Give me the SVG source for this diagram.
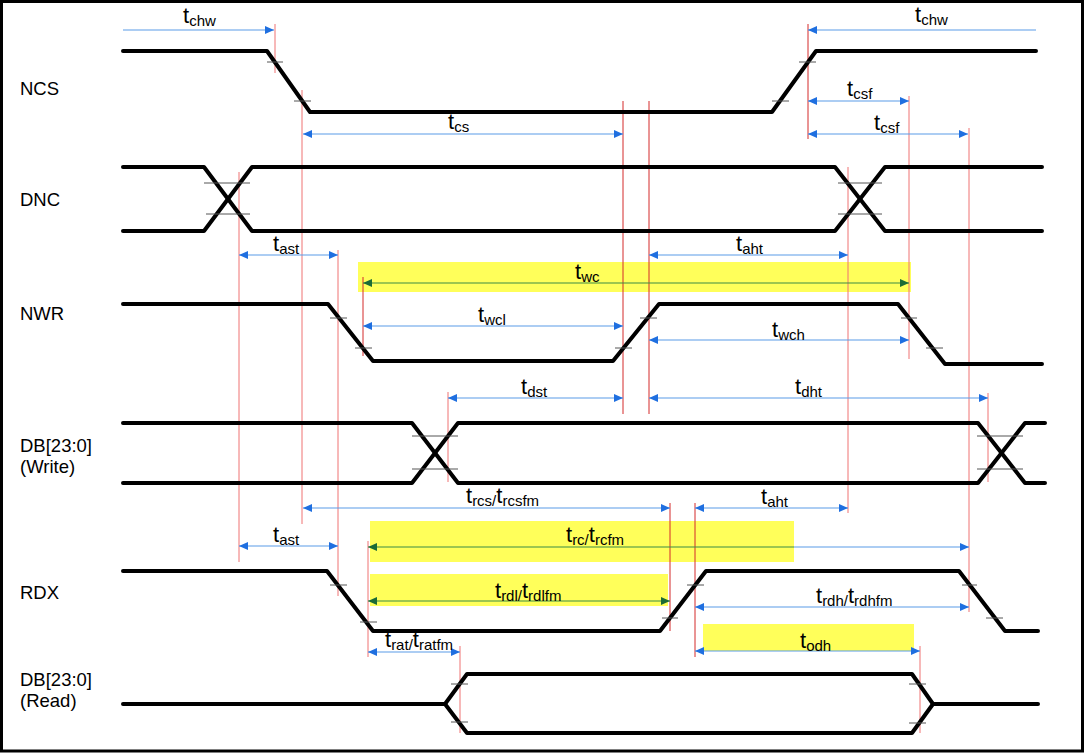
<svg xmlns="http://www.w3.org/2000/svg" width="1085" height="754" viewBox="0 0 1085 754">
<defs>
<marker id="ab" markerUnits="userSpaceOnUse" markerWidth="9" markerHeight="8" viewBox="0 0 9 8" refX="9" refY="4" orient="auto-start-reverse"><path d="M0,0 L9,4 L0,8 z" fill="#1f6fe0"/></marker>
<marker id="ag" markerUnits="userSpaceOnUse" markerWidth="9" markerHeight="8" viewBox="0 0 9 8" refX="9" refY="4" orient="auto-start-reverse"><path d="M0,0 L9,4 L0,8 z" fill="#1b6b36"/></marker>
<style>
.sig{fill:none;stroke:#000;stroke-width:4;stroke-linejoin:round;stroke-linecap:round}
.tk{stroke:#555;stroke-width:1}
.rl{stroke:#ef7272;stroke-width:1}
.rd{stroke:#d42a2a;stroke-width:1}
.dl{stroke:#5b9be8;stroke-width:1.2;fill:none}
.gl{stroke:#3d8b45;stroke-width:1.2;fill:none}
.hl{fill:#ffff5a}
.nm{font-family:"Liberation Sans",Arial,sans-serif;font-size:18.5px;fill:#000}
.lb{font-family:"Liberation Sans",Arial,sans-serif;font-size:22px;fill:#000}
.sb{font-size:15px}
</style>
</defs>
<rect x="1.5" y="1.5" width="1081" height="749.5" fill="#fff" stroke="#000" stroke-width="3"/>

<g id="highlights">
<rect class="hl" x="358" y="262" width="553" height="30"/>
<rect class="hl" x="370" y="521" width="424" height="41"/>
<rect class="hl" x="370" y="574" width="298" height="32"/>
<rect class="hl" x="703" y="624" width="211" height="27"/>
</g>

<g id="signal-labels">
<text class="nm" x="20" y="95">NCS</text>
<text class="nm" x="20" y="206">DNC</text>
<text class="nm" x="20" y="320">NWR</text>
<text class="nm" x="20" y="452">DB[23:0]</text>
<text class="nm" x="20" y="473">(Write)</text>
<text class="nm" x="20" y="599">RDX</text>
<text class="nm" x="20" y="686">DB[23:0]</text>
<text class="nm" x="20" y="707">(Read)</text>
</g>

<g id="ref-lines">
<line class="rl" x1="275" y1="24" x2="275" y2="73"/>
<line class="rl" x1="302" y1="90" x2="302" y2="524"/>
<line class="rd" x1="623" y1="101" x2="623" y2="414"/>
<line class="rd" x1="649" y1="101" x2="649" y2="414"/>
<line class="rd" x1="808" y1="24" x2="808" y2="139"/>
<line class="rl" x1="909" y1="96" x2="909" y2="359"/>
<line class="rl" x1="969" y1="128" x2="969" y2="612"/>
<line class="rl" x1="239" y1="172" x2="239" y2="562"/>
<line class="rl" x1="848" y1="167" x2="848" y2="513"/>
<line class="rl" x1="338" y1="250" x2="338" y2="596"/>
<line class="rd" x1="363" y1="277" x2="363" y2="356"/>
<line class="rl" x1="448" y1="392" x2="448" y2="482"/>
<line class="rl" x1="988" y1="393" x2="988" y2="482"/>
<line class="rl" x1="368" y1="541" x2="368" y2="657"/>
<line class="rd" x1="670" y1="503" x2="670" y2="631"/>
<line class="rd" x1="695" y1="503" x2="695" y2="657"/>
<line class="rl" x1="460" y1="646" x2="460" y2="733"/>
<line class="rl" x1="920" y1="646" x2="920" y2="733"/>
</g>

<g id="NCS">
<path class="sig" d="M123,51 L267,51 L310,112 L772,112 L816,51 L1036,51"/>
<line class="tk" x1="267" y1="62" x2="283" y2="62"/>
<line class="tk" x1="294" y1="101" x2="311" y2="101"/>
<line class="tk" x1="799" y1="62" x2="816" y2="62"/>
<line class="tk" x1="772" y1="101" x2="789" y2="101"/>
</g>

<g id="DNC">
<path class="sig" d="M123,167 L204,167 L252,231 L835,231 L885,167 L1042,167"/>
<path class="sig" d="M123,231 L204,231 L252,167 L835,167 L885,231 L1042,231"/>
<line class="tk" x1="204" y1="183" x2="250" y2="183"/>
<line class="tk" x1="206" y1="214" x2="250" y2="214"/>
<line class="tk" x1="838" y1="183" x2="882" y2="183"/>
<line class="tk" x1="838" y1="214" x2="882" y2="214"/>
</g>

<g id="NWR">
<path class="sig" d="M123,304 L328,304 L373,361 L613,361 L659,304 L898,304 L945,364 L1042,364"/>
<line class="tk" x1="330" y1="318" x2="347" y2="318"/>
<line class="tk" x1="355" y1="348" x2="372" y2="348"/>
<line class="tk" x1="615" y1="348" x2="632" y2="348"/>
<line class="tk" x1="640" y1="318" x2="657" y2="318"/>
<line class="tk" x1="901" y1="318" x2="917" y2="318"/>
<line class="tk" x1="926" y1="348" x2="943" y2="348"/>
</g>

<g id="DB-write">
<path class="sig" d="M123,423 L412,423 L458,483 L978,483 L1025,423 L1045,423"/>
<path class="sig" d="M123,483 L412,483 L458,423 L978,423 L1025,483 L1045,483"/>
<line class="tk" x1="412" y1="436" x2="458" y2="436"/>
<line class="tk" x1="412" y1="469" x2="458" y2="469"/>
<line class="tk" x1="977" y1="436" x2="1023" y2="436"/>
<line class="tk" x1="977" y1="469" x2="1023" y2="469"/>
</g>

<g id="RDX">
<path class="sig" d="M123,571 L327,571 L373,631 L660,631 L706,571 L959,571 L1005,631 L1038,631"/>
<line class="tk" x1="330" y1="585" x2="347" y2="585"/>
<line class="tk" x1="360" y1="622" x2="377" y2="622"/>
<line class="tk" x1="662" y1="618" x2="678" y2="618"/>
<line class="tk" x1="687" y1="585" x2="704" y2="585"/>
<line class="tk" x1="962" y1="585" x2="977" y2="585"/>
<line class="tk" x1="986" y1="618" x2="1003" y2="618"/>
</g>

<g id="DB-read">
<path class="sig" d="M123,704 L445,704 L467,674 L912,674 L933,704 L1038,704"/>
<path class="sig" d="M445,704 L467,733 L912,733 L933,704"/>
<line class="tk" x1="451" y1="684" x2="468" y2="684"/>
<line class="tk" x1="451" y1="722" x2="468" y2="722"/>
<line class="tk" x1="909" y1="684" x2="926" y2="684"/>
<line class="tk" x1="909" y1="723" x2="926" y2="723"/>
</g>

<g id="connectors">
<line class="dl" x1="123" y1="30" x2="274" y2="30" marker-end="url(#ab)"/>
<line class="dl" x1="1036" y1="30" x2="808" y2="30" marker-end="url(#ab)"/>
<line class="dl" x1="808" y1="101" x2="909" y2="101" marker-start="url(#ab)" marker-end="url(#ab)"/>
<line class="dl" x1="808" y1="134" x2="968" y2="134" marker-start="url(#ab)" marker-end="url(#ab)"/>
<line class="dl" x1="303" y1="134" x2="623" y2="134" marker-start="url(#ab)" marker-end="url(#ab)"/>
<line class="dl" x1="239" y1="255" x2="338" y2="255" marker-start="url(#ab)" marker-end="url(#ab)"/>
<line class="dl" x1="649" y1="255" x2="848" y2="255" marker-start="url(#ab)" marker-end="url(#ab)"/>
<line class="gl" x1="363" y1="283" x2="909" y2="283" marker-start="url(#ag)" marker-end="url(#ag)"/>
<line class="dl" x1="363" y1="326" x2="623" y2="326" marker-start="url(#ab)" marker-end="url(#ab)"/>
<line class="dl" x1="649" y1="340" x2="909" y2="340" marker-start="url(#ab)" marker-end="url(#ab)"/>
<line class="dl" x1="448" y1="398" x2="623" y2="398" marker-start="url(#ab)" marker-end="url(#ab)"/>
<line class="dl" x1="649" y1="398" x2="988" y2="398" marker-start="url(#ab)" marker-end="url(#ab)"/>
<line class="dl" x1="303" y1="508" x2="670" y2="508" marker-start="url(#ab)" marker-end="url(#ab)"/>
<line class="dl" x1="695" y1="508" x2="848" y2="508" marker-start="url(#ab)" marker-end="url(#ab)"/>
<line class="dl" x1="239" y1="546" x2="338" y2="546" marker-start="url(#ab)" marker-end="url(#ab)"/>
<line class="gl" x1="368" y1="547" x2="794" y2="547" marker-start="url(#ag)"/>
<line class="dl" x1="794" y1="547" x2="969" y2="547" marker-end="url(#ab)"/>
<line class="gl" x1="368" y1="601" x2="670" y2="601" marker-start="url(#ag)" marker-end="url(#ag)"/>
<line class="dl" x1="368" y1="652" x2="460" y2="652" marker-start="url(#ab)" marker-end="url(#ab)"/>
<line class="dl" x1="695" y1="607" x2="969" y2="607" marker-start="url(#ab)" marker-end="url(#ab)"/>
<line class="dl" x1="695" y1="651" x2="920" y2="651" marker-start="url(#ab)" marker-end="url(#ab)"/>
</g>

<g id="timing-labels">
<text class="lb" x="183" y="23">t<tspan class="sb" dy="3">chw</tspan></text>
<text class="lb" x="915" y="22">t<tspan class="sb" dy="3">chw</tspan></text>
<text class="lb" x="847" y="96">t<tspan class="sb" dy="3">csf</tspan></text>
<text class="lb" x="874" y="130">t<tspan class="sb" dy="3">csf</tspan></text>
<text class="lb" x="448" y="129">t<tspan class="sb" dy="3">cs</tspan></text>
<text class="lb" x="273" y="251">t<tspan class="sb" dy="3">ast</tspan></text>
<text class="lb" x="736" y="251">t<tspan class="sb" dy="3">aht</tspan></text>
<text class="lb" x="575" y="279">t<tspan class="sb" dy="3">wc</tspan></text>
<text class="lb" x="478" y="322">t<tspan class="sb" dy="3">wcl</tspan></text>
<text class="lb" x="772" y="337">t<tspan class="sb" dy="3">wch</tspan></text>
<text class="lb" x="521" y="394">t<tspan class="sb" dy="3">dst</tspan></text>
<text class="lb" x="795" y="394">t<tspan class="sb" dy="3">dht</tspan></text>
<text class="lb" x="466" y="503">t<tspan class="sb" dy="3">rcs/</tspan><tspan dy="-3">t</tspan><tspan class="sb" dy="3">rcsfm</tspan></text>
<text class="lb" x="761" y="504">t<tspan class="sb" dy="3">aht</tspan></text>
<text class="lb" x="273" y="542">t<tspan class="sb" dy="3">ast</tspan></text>
<text class="lb" x="566" y="542">t<tspan class="sb" dy="3">rc/</tspan><tspan dy="-3">t</tspan><tspan class="sb" dy="3">rcfm</tspan></text>
<text class="lb" x="495" y="598">t<tspan class="sb" dy="3">rdl/</tspan><tspan dy="-3">t</tspan><tspan class="sb" dy="3">rdlfm</tspan></text>
<text class="lb" x="385" y="647">t<tspan class="sb" dy="3">rat/</tspan><tspan dy="-3">t</tspan><tspan class="sb" dy="3">ratfm</tspan></text>
<text class="lb" x="816" y="603">t<tspan class="sb" dy="3">rdh/</tspan><tspan dy="-3">t</tspan><tspan class="sb" dy="3">rdhfm</tspan></text>
<text class="lb" x="800" y="648">t<tspan class="sb" dy="3">odh</tspan></text>
</g>
</svg>
